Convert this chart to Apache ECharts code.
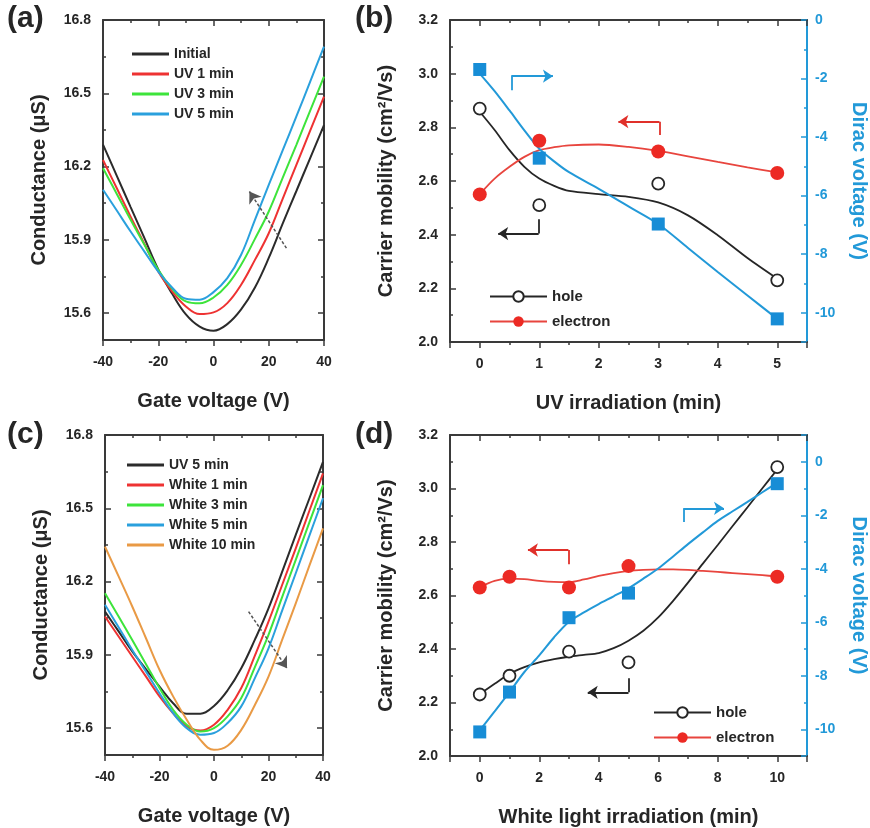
<!DOCTYPE html>
<html>
<head>
<meta charset="utf-8">
<title>Conductance and mobility under UV / white light</title>
<script src="https://cdn.jsdelivr.net/npm/echarts@6/dist/echarts.min.js"></script>
<style>
  html, body { margin: 0; padding: 0; background: #fff; }
  #chart { width: 870px; height: 828px; }
</style>
</head>
<body>
<div id="chart"></div>
<script>
// ---- (a) / (c): transfer curves, conductance (uS) vs gate voltage (V) ----
const gateV = [-40, -35, -30, -25, -20, -15, -10, -5, 0, 5, 10, 15, 20, 25, 30, 35, 40]

const aInitial = [16.29, 16.162, 16.034, 15.907, 15.779, 15.68, 15.595, 15.545, 15.528, 15.555, 15.615, 15.705, 15.826, 15.965, 16.10, 16.235, 16.37]
const aUV1 = [16.227, 16.111, 15.995, 15.883, 15.770, 15.689, 15.627, 15.596, 15.603, 15.641, 15.716, 15.818, 15.927, 16.067, 16.207, 16.347, 16.486]
const aUV3 = [16.193, 16.088, 15.982, 15.880, 15.777, 15.700, 15.648, 15.640, 15.664, 15.716, 15.798, 15.904, 16.016, 16.153, 16.289, 16.429, 16.568]
const aUV5 = [16.105, 16.020, 15.934, 15.852, 15.770, 15.705, 15.659, 15.655, 15.686, 15.743, 15.839, 15.982, 16.125, 16.265, 16.405, 16.548, 16.691]

const cUV5 = [16.077, 15.996, 15.914, 15.842, 15.770, 15.702, 15.659, 15.659, 15.691, 15.755, 15.845, 15.962, 16.090, 16.240, 16.391, 16.540, 16.690]
const cWhite1 = [16.057, 15.975, 15.893, 15.812, 15.730, 15.661, 15.607, 15.590, 15.614, 15.675, 15.764, 15.897, 16.036, 16.186, 16.336, 16.490, 16.643]
const cWhite3 = [16.152, 16.057, 15.961, 15.863, 15.764, 15.675, 15.614, 15.586, 15.600, 15.648, 15.723, 15.850, 15.982, 16.136, 16.289, 16.442, 16.595]
const cWhite5 = [16.105, 16.013, 15.920, 15.832, 15.743, 15.661, 15.600, 15.573, 15.580, 15.621, 15.689, 15.805, 15.927, 16.081, 16.234, 16.388, 16.541]
const cWhite10 = [16.343, 16.221, 16.098, 15.969, 15.839, 15.730, 15.634, 15.552, 15.511, 15.528, 15.593, 15.695, 15.811, 15.961, 16.111, 16.265, 16.418]

// ---- (b): mobility / Dirac voltage vs UV time ----
const uvTime = [0, 1, 3, 5]
const holeUV = [2.87, 2.51, 2.59, 2.23]
const electronUV = [2.55, 2.75, 2.71, 2.63]
const diracUV = [-1.69, -4.72, -6.97, -10.21]

const uvFitTime = [0, 0.25, 0.5, 0.75, 1, 1.25, 1.5, 2, 2.5, 3, 3.5, 4, 4.5, 5]
const holeUVFit = [2.858, 2.79, 2.715, 2.653, 2.609, 2.582, 2.563, 2.551, 2.541, 2.520, 2.472, 2.398, 2.313, 2.236]
const electronUVFit = [2.551, 2.609, 2.653, 2.69, 2.715, 2.726, 2.733, 2.736, 2.727, 2.712, 2.692, 2.671, 2.651, 2.632]
const diracUVFit = [-1.83, -2.43, -3.09, -3.77, -4.4, -4.83, -5.2, -5.77, -6.37, -6.97, -7.79, -8.61, -9.41, -10.21]

// ---- (d): mobility / Dirac voltage vs white light time ----
const whiteTime = [0, 1, 3, 5, 10]
const holeWhite = [2.23, 2.30, 2.39, 2.35, 3.08]
const electronWhite = [2.63, 2.67, 2.63, 2.71, 2.67]
const diracWhite = [-10.1, -8.61, -5.83, -4.91, -0.82]

const whiteFitTime = [0, 0.5, 1, 1.5, 2, 2.5, 3, 3.5, 4, 4.5, 5, 5.5, 6, 6.5, 7, 7.5, 8, 8.5, 9, 9.5, 10]
const holeWhiteFit = [2.232, 2.270, 2.307, 2.332, 2.350, 2.362, 2.371, 2.378, 2.385, 2.403, 2.431, 2.468, 2.518, 2.58, 2.648, 2.719, 2.789, 2.860, 2.930, 3.001, 3.071]
const electronWhiteFit = [2.632, 2.655, 2.663, 2.661, 2.655, 2.651, 2.650, 2.660, 2.673, 2.684, 2.692, 2.696, 2.698, 2.698, 2.696, 2.692, 2.688, 2.684, 2.680, 2.676, 2.671]
const diracWhiteFit = [-10.04, -9.33, -8.61, -7.86, -7.24, -6.56, -5.98, -5.63, -5.32, -5.03, -4.73, -4.37, -3.99, -3.54, -3.08, -2.64, -2.21, -1.85, -1.50, -1.14, -0.78]

// annotation arrows, in data units of each panel
const arrowA = [[26.4, 15.866], [13.0, 16.098]]
const arrowC = [[12.7, 16.077], [26.8, 15.845]]
const arrowsB = {
  hole: [[0.99, 2.457], [0.99, 2.404], [0.31, 2.404]],
  electron: [[3.02, 2.771], [3.02, 2.821], [2.33, 2.821]],
  dirac: [[0.53, -2.4], [0.53, -1.92], [1.23, -1.92]]
}
const arrowsD = {
  hole: [[5.0, 2.291], [5.0, 2.238], [3.63, 2.238]],
  electron: [[2.98, 2.717], [2.98, 2.770], [1.62, 2.770]],
  dirac: [[6.85, -2.25], [6.85, -1.74], [8.21, -1.74]]
}

const FONT = 'Arial, "Liberation Sans", Helvetica, sans-serif'
const INK = '#262626'
const AXIS = '#3a3a3a'
const BLUE = '#2299d8'
const SQUARE = '#178dd6'
const RED = '#ec2a24'
const TICK = { color: AXIS, width: 1.5 }

const text = (size, color) => ({ fontFamily: FONT, fontSize: size, fontWeight: 'bold', color: color || INK })
const pairs = (xs, ys) => xs.map((x, i) => [x, ys[i]])

const xBottom = (grid, min, max, name, interval, hideEnds) => ({
  gridIndex: grid, type: 'value', position: 'bottom', min, max, interval,
  name, nameLocation: 'middle', nameGap: 51, nameTextStyle: text(20),
  axisLine: { show: true, onZero: false, lineStyle: { color: AXIS, width: 2 } },
  axisTick: { show: true, inside: false, length: 6, lineStyle: TICK },
  minorTick: { show: true, splitNumber: 2, length: 3, lineStyle: TICK },
  axisLabel: { ...text(14), margin: 15, showMinLabel: !hideEnds, showMaxLabel: !hideEnds },
  splitLine: { show: false }
})

const xTop = (grid, min, max, interval) => ({
  gridIndex: grid, type: 'value', position: 'top', min, max, interval,
  axisLine: { show: true, onZero: false, lineStyle: { color: AXIS, width: 2 } },
  axisTick: { show: true, inside: true, length: 6, lineStyle: TICK },
  minorTick: { show: true, splitNumber: 2, length: 3, lineStyle: TICK },
  axisLabel: { show: false },
  splitLine: { show: false }
})

const yLeft = (grid, min, max, name, interval, hideMin) => ({
  gridIndex: grid, type: 'value', position: 'left', min, max, interval,
  name, nameLocation: 'middle', nameGap: 54, nameRotate: 90, nameTextStyle: text(20),
  axisLine: { show: true, onZero: false, lineStyle: { color: AXIS, width: 2 } },
  axisTick: { show: true, inside: true, length: 6, lineStyle: TICK },
  minorTick: { show: true, splitNumber: 2, length: 3, lineStyle: TICK },
  axisLabel: { ...text(14), margin: 12, showMinLabel: !hideMin, formatter: v => v.toFixed(1) },
  splitLine: { show: false }
})

const yMirror = (grid, min, max) => ({
  gridIndex: grid, type: 'value', position: 'right', min, max,
  axisLine: { show: true, onZero: false, lineStyle: { color: AXIS, width: 2 } },
  axisTick: { show: true, inside: true, length: 6, lineStyle: TICK },
  minorTick: { show: true, splitNumber: 2, length: 3, lineStyle: TICK },
  axisLabel: { show: false },
  splitLine: { show: false }
})

const yDirac = (grid, min, max, hideMax) => ({
  gridIndex: grid, type: 'value', position: 'right', min, max,
  name: 'Dirac voltage (V)', nameLocation: 'middle', nameGap: 42, nameRotate: -90,
  nameTextStyle: text(20, BLUE),
  axisLine: { show: true, onZero: false, lineStyle: { color: BLUE, width: 2 } },
  axisTick: { show: true, inside: true, length: 6, lineStyle: { color: BLUE, width: 1.5 } },
  minorTick: { show: true, splitNumber: 2, length: 3, lineStyle: { color: BLUE, width: 1.5 } },
  axisLabel: { ...text(14, BLUE), margin: 8, showMinLabel: false, showMaxLabel: !hideMax },
  splitLine: { show: false }
})

const curve = (name, xs, ys, color, axis) => ({
  type: 'line', name, xAxisIndex: axis, yAxisIndex: axis, data: pairs(xs, ys),
  smooth: 0.4, symbol: 'none',
  lineStyle: { color, width: 2 }, itemStyle: { color }, z: 3
})

const fitLine = (xs, ys, color, xi, yi, width) => ({
  type: 'line', xAxisIndex: xi, yAxisIndex: yi, data: pairs(xs, ys),
  smooth: 0.3, symbol: 'none', lineStyle: { color, width: width || 1.8 }, z: 3
})

const dots = (name, xs, ys, xi, yi, symbol, size, itemStyle, lineColor) => ({
  type: 'line', name, xAxisIndex: xi, yAxisIndex: yi, data: pairs(xs, ys),
  symbol, symbolSize: size, showAllSymbol: true,
  lineStyle: { opacity: 0, width: 2, color: lineColor }, itemStyle, z: 5
})

const dashedArrow = (pts) => ({
  silent: true, animation: false, symbol: ['none', 'arrow'], symbolSize: 11,
  label: { show: false },
  lineStyle: { color: '#555', width: 1.5, type: [3, 2] },
  data: [[{ coord: pts[0] }, { coord: pts[1] }]]
})

const elbowArrow = (pts, color) => ({
  silent: true, animation: false, symbolSize: 10,
  label: { show: false },
  lineStyle: { color, width: 1.8, type: 'solid' },
  data: [
    [{ coord: pts[0], symbol: 'none' }, { coord: pts[1], symbol: 'none' }],
    [{ coord: pts[1], symbol: 'none' }, { coord: pts[2], symbol: 'arrow' }]
  ]
})

const curveLegend = {
  orient: 'vertical', selectedMode: false, icon: 'rect',
  itemWidth: 37, itemHeight: 3, itemGap: 6, textStyle: text(14)
}
const markerLegend = {
  orient: 'vertical', selectedMode: false,
  itemWidth: 57, itemHeight: 13, itemGap: 10, textStyle: text(15),
  lineStyle: { opacity: 1, width: 2 }
}

const holeStyle = { color: '#fff', borderColor: INK, borderWidth: 1.8 }
const electronStyle = { color: RED, borderColor: RED, borderWidth: 0 }
const squareStyle = { color: SQUARE }

const aCurves = [
  curve('Initial', gateV, aInitial, '#2b2b2b', 0),
  curve('UV 1 min', gateV, aUV1, '#ee3232', 0),
  curve('UV 3 min', gateV, aUV3, '#3de43b', 0),
  curve('UV 5 min', gateV, aUV5, '#2aa0dd', 0)
]
aCurves[3].markLine = dashedArrow(arrowA)

const cCurves = [
  curve('UV 5 min', gateV, cUV5, '#2b2b2b', 4),
  curve('White 1 min', gateV, cWhite1, '#ee3232', 4),
  curve('White 3 min', gateV, cWhite3, '#3de43b', 4),
  curve('White 5 min', gateV, cWhite5, '#2aa0dd', 4),
  curve('White 10 min', gateV, cWhite10, '#e99a45', 4)
]
cCurves[4].markLine = dashedArrow(arrowC)

const holeFitB = fitLine(uvFitTime, holeUVFit, INK, 2, 2)
holeFitB.markLine = elbowArrow(arrowsB.hole, INK)
const electronFitB = fitLine(uvFitTime, electronUVFit, '#e8453e', 2, 2)
electronFitB.markLine = elbowArrow(arrowsB.electron, '#e0302a')
const diracFitB = fitLine(uvFitTime, diracUVFit, BLUE, 2, 3, 2)
diracFitB.markLine = elbowArrow(arrowsB.dirac, BLUE)

const holeFitD = fitLine(whiteFitTime, holeWhiteFit, INK, 6, 6)
holeFitD.markLine = elbowArrow(arrowsD.hole, INK)
const electronFitD = fitLine(whiteFitTime, electronWhiteFit, '#e8453e', 6, 6)
electronFitD.markLine = elbowArrow(arrowsD.electron, '#e0302a')
const diracFitD = fitLine(whiteFitTime, diracWhiteFit, BLUE, 6, 7, 2)
diracFitD.markLine = elbowArrow(arrowsD.dirac, BLUE)

const option = {
  animation: false,
  backgroundColor: '#fff',
  title: [
    { text: '(a)', left: 7, top: 4, padding: 0, textStyle: text(30) },
    { text: '(b)', left: 355, top: 4, padding: 0, textStyle: text(30) },
    { text: '(c)', left: 7, top: 420, padding: 0, textStyle: text(30) },
    { text: '(d)', left: 355, top: 420, padding: 0, textStyle: text(30) }
  ],
  grid: [
    { left: 103, top: 20, width: 221, height: 320 },
    { left: 450, top: 20, width: 358, height: 322 },
    { left: 105, top: 435, width: 218, height: 320 },
    { left: 450, top: 435, width: 358, height: 323 }
  ],
  xAxis: [
    xBottom(0, -40, 40, 'Gate voltage (V)', 20, false),
    xTop(0, -40, 40, 20),
    xBottom(1, -0.5, 5.5, 'UV irradiation (min)', undefined, true),
    xTop(1, -0.5, 5.5),
    xBottom(2, -40, 40, 'Gate voltage (V)', 20, false),
    xTop(2, -40, 40, 20),
    xBottom(3, -1, 11, 'White light irradiation (min)', undefined, true),
    xTop(3, -1, 11)
  ],
  yAxis: [
    yLeft(0, 15.49, 16.8, 'Conductance (\u03bcS)', undefined, true),
    yMirror(0, 15.49, 16.8),
    yLeft(1, 2.0, 3.2, 'Carrier mobility (cm\u00b2/Vs)', 0.2, false),
    yDirac(1, -11, 0, false),
    yLeft(2, 15.49, 16.8, 'Conductance (\u03bcS)', undefined, true),
    yMirror(2, 15.49, 16.8),
    yLeft(3, 2.0, 3.2, 'Carrier mobility (cm\u00b2/Vs)', 0.2, false),
    yDirac(3, -11, 1, true)
  ],
  legend: [
    { ...curveLegend, left: 127, top: 42,
      data: ['Initial', 'UV 1 min', 'UV 3 min', 'UV 5 min'] },
    { ...markerLegend, left: 484, top: 284, data: ['hole', 'electron'] },
    { ...curveLegend, left: 122, top: 453,
      data: [
        { name: 'UV 5 min', itemStyle: { color: '#2b2b2b' } },
        'White 1 min', 'White 3 min', 'White 5 min', 'White 10 min'
      ] },
    { ...markerLegend, left: 648, top: 700, data: ['hole', 'electron'] }
  ],
  series: [
    ...aCurves,
    ...cCurves,
    holeFitB, electronFitB, diracFitB,
    dots('hole', uvTime, holeUV, 2, 2, 'circle', 12, holeStyle, INK),
    dots('electron', uvTime, electronUV, 2, 2, 'circle', 14, electronStyle, '#e8453e'),
    dots('Dirac (UV)', uvTime, diracUV, 2, 3, 'rect', 13, squareStyle, BLUE),
    holeFitD, electronFitD, diracFitD,
    dots('hole', whiteTime, holeWhite, 6, 6, 'circle', 12, holeStyle, INK),
    dots('electron', whiteTime, electronWhite, 6, 6, 'circle', 14, electronStyle, '#e8453e'),
    dots('Dirac (white)', whiteTime, diracWhite, 6, 7, 'rect', 13, squareStyle, BLUE)
  ]
}

const chart = echarts.init(document.getElementById('chart'), null, { renderer: 'canvas' })
chart.setOption(option)
</script>
</body>
</html>
